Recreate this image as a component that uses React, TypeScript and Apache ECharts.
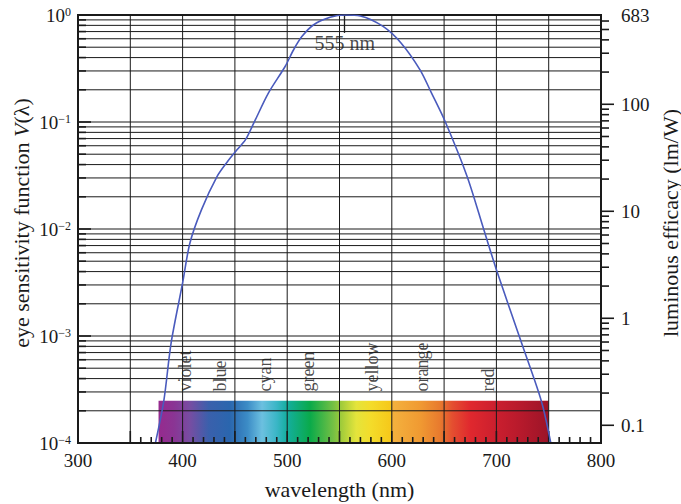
import React, { useEffect, useRef } from 'react';
import * as echarts from 'echarts';

// ---- data ----
const WAVELENGTH_NM = [374, 382, 389, 400, 407, 418, 433, 443, 452, 460, 468, 482, 498, 506, 514, 525, 541, 555, 570, 592, 609, 627, 638, 651, 672, 688, 700, 724, 743, 752];
const SENSITIVITY_V = [1.0e-4, 2.46e-4, 8.6e-4, 3.13e-3, 7.4e-3, 0.0151, 0.031, 0.0428, 0.055, 0.068, 0.0975, 0.186, 0.33, 0.471, 0.628, 0.807, 0.951, 1.0, 0.98, 0.778, 0.545, 0.307, 0.186, 0.101, 0.031, 0.00984, 0.00417, 8.63e-4, 2.46e-4, 1.0e-4];

const COLOR_NAMES = ['violet', 'blue', 'cyan', 'green', 'yellow', 'orange', 'red'];
const COLOR_NAME_NM = [402, 436, 479, 520, 581, 629, 692];
const COLOR_NAME_BASE_V = 3.03e-4;

const SPECTRUM_START_NM = 377;
const SPECTRUM_END_NM = 750;
const SPECTRUM_TOP_V = 2.48e-4;
const SPECTRUM_STOP_NM = [377, 392, 407, 425, 445, 462, 476, 490, 500, 522, 544, 552, 566, 580, 599, 600, 627, 646, 658, 675, 703, 722, 750];
const SPECTRUM_STOP_COLOR = ['#962a8e', '#8a3594', '#774da2', '#3a60ac', '#2a66ae', '#3c8cc6', '#6cc0e0', '#3ab6c6', '#14ae9e', '#0aaa4a', '#74c044', '#a2cc3a', '#e4e43c', '#f4dc2a', '#f6c81a', '#f4b23e', '#f09a32', '#e87a2e', '#e44e30', '#e0282e', '#c81e2e', '#b81a2c', '#9c1428'];

const PEAK_NM = 555;
const PEAK_MARK_LOW_V = 0.68;
const PEAK_LABEL_V = 0.55;

const X_MIN = 300;
const X_MAX = 800;
const V_MIN = 1e-4;
const V_MAX = 1;
const EFFICACY_MAX = 683;
const EFFICACY_MIN = EFFICACY_MAX * V_MIN;

const GRID_NM = [350, 400, 450, 500, 550, 600, 650, 700, 750];
const X_TICK_NM: number[] = [];
for (let nm = 350; nm <= 800; nm += 10) X_TICK_NM.push(nm);

const GRID_V: number[] = [];
for (let k = -4; k <= -1; k++) for (let m = 1; m <= 9; m++) GRID_V.push(Number((m * Math.pow(10, k)).toPrecision(3)));
GRID_V.push(1);

const EFFICACY_TICKS: number[] = [];
for (let k = -1; k <= 2; k++) for (let m = 1; m <= 9; m++) {
  const v = Number((m * Math.pow(10, k)).toPrecision(3));
  if (v <= 600) EFFICACY_TICKS.push(v);
}

const FONT = '"Liberation Serif", "Times New Roman", serif';
const INK = '#1a1a1a';

function isPow10(v: number) {
  const e = Math.log10(v);
  return Math.abs(e - Math.round(e)) < 1e-6;
}

function lineEl(x1: number, y1: number, x2: number, y2: number, w: number) {
  return { type: 'line', shape: { x1, y1, x2, y2 }, style: { stroke: INK, lineWidth: w } };
}

export default function App() {
  const ref = useRef<HTMLDivElement>(null);
  useEffect(() => {
    const chart = echarts.init(ref.current!, null, { renderer: 'svg' });
    const span = SPECTRUM_END_NM - SPECTRUM_START_NM;
    const stops = SPECTRUM_STOP_NM.map((nm, i) => ({ offset: (nm - SPECTRUM_START_NM) / span, color: SPECTRUM_STOP_COLOR[i] }));

    const option: any = {
      animation: false,
      backgroundColor: '#fff',
      grid: { left: 78, right: 80, top: 15, bottom: 61, show: true, borderColor: INK, borderWidth: 2, backgroundColor: 'transparent', outerBoundsMode: 'none', containLabel: false },
      xAxis: [{
        type: 'value', min: X_MIN, max: X_MAX, interval: 100, z: 10,
        axisLine: { show: true, lineStyle: { color: INK, width: 2 } },
        axisTick: { show: false }, splitLine: { show: false },
        axisLabel: { fontSize: 19, fontFamily: FONT, color: INK, margin: 8 },
        name: 'wavelength (nm)', nameLocation: 'middle', nameGap: 35, nameMoveOverlap: false,
        nameTextStyle: { fontSize: 22, fontFamily: FONT, color: INK },
      }],
      yAxis: [{
        type: 'log', logBase: 10, min: V_MIN, max: V_MAX, position: 'left', z: 10,
        axisLine: { show: true, lineStyle: { color: INK, width: 2 } },
        axisTick: { show: false }, splitLine: { show: false },
        axisLabel: {
          margin: 7, fontFamily: FONT, color: INK,
          formatter: (v: number) => {
            const e = Math.round(Math.log10(v));
            return '{b|10}{s|' + (e === 0 ? '0' : '\u2212' + -e) + '}';
          },
          rich: {
            b: { fontSize: 19, fontFamily: FONT, color: INK },
            s: { fontSize: 12, fontFamily: FONT, color: INK, verticalAlign: 'top', lineHeight: 12 },
          },
        },
        name: 'eye sensitivity function {i|V}(λ)', nameLocation: 'middle', nameGap: 46, nameMoveOverlap: false,
        nameTextStyle: { fontSize: 22, fontFamily: FONT, color: INK, padding: [0, 0, 0, 12], rich: { i: { fontSize: 22, fontFamily: FONT, color: INK, fontStyle: 'italic' } } },
      }, {
        type: 'log', logBase: 10, min: EFFICACY_MIN, max: EFFICACY_MAX, position: 'right', z: 10,
        axisLine: { show: true, lineStyle: { color: INK, width: 2 } },
        axisTick: { show: false }, splitLine: { show: false },
        axisLabel: {
          margin: 20, fontSize: 19, fontFamily: FONT, color: INK, showMaxLabel: true,
          formatter: (v: number) => {
            if (v > 600) return '683';
            if (v < 0.09) return '';
            return v >= 1 ? String(Math.round(v)) : String(Number(v.toPrecision(2)));
          },
        },
        name: 'luminous efficacy (lm/W)', nameLocation: 'middle', nameGap: 58, nameMoveOverlap: false,
        nameTextStyle: { fontSize: 22, fontFamily: FONT, color: INK, padding: [0, 0, 0, 12] },
      }],
      series: [
        {
          type: 'custom', name: 'spectrum', z: 2, silent: true, clip: false,
          encode: { x: [0, 1], y: [2, 3] },
          data: [[SPECTRUM_START_NM, SPECTRUM_END_NM, SPECTRUM_TOP_V, V_MIN]],
          renderItem: (_p: any, api: any) => {
            const a = api.coord([api.value(0), api.value(2)]);
            const b = api.coord([api.value(1), api.value(3)]);
            return {
              type: 'rect',
              shape: { x: a[0], y: a[1], width: b[0] - a[0], height: b[1] - a[1] },
              style: { fill: new echarts.graphic.LinearGradient(0, 0, 1, 0, stops) },
            };
          },
        },
        {
          type: 'custom', name: 'hgrid', z: 3, silent: true, clip: false,
          encode: { x: 0, y: 1 },
          data: GRID_V.map((v) => [X_MIN, v]),
          renderItem: (_p: any, api: any) => {
            const v = api.value(1);
            const a = api.coord([X_MIN, v]);
            const b = api.coord([X_MAX, v]);
            const left = isPow10(v) ? 13 : 8;
            return {
              type: 'group',
              children: [lineEl(a[0], a[1], b[0], b[1], 1), lineEl(a[0], a[1], a[0] + left, a[1], 1.6)],
            };
          },
        },
        {
          type: 'custom', name: 'vgrid', z: 3, silent: true, clip: false,
          encode: { x: 0, y: 1 },
          data: GRID_NM.map((nm) => [nm, V_MIN]),
          renderItem: (_p: any, api: any) => {
            const nm = api.value(0);
            const a = api.coord([nm, V_MIN]);
            const b = api.coord([nm, V_MAX]);
            return lineEl(a[0], a[1], b[0], b[1], 1);
          },
        },
        {
          type: 'custom', name: 'xticks', z: 4, silent: true, clip: false,
          encode: { x: 0, y: 1 },
          data: X_TICK_NM.map((nm) => [nm, V_MIN]),
          renderItem: (_p: any, api: any) => {
            const nm = api.value(0);
            const a = api.coord([nm, V_MIN]);
            const len = nm % 50 === 0 ? 12 : 6;
            return lineEl(a[0], a[1], a[0], a[1] - len, 1.6);
          },
        },
        {
          type: 'custom', name: 'efficacyTicks', yAxisIndex: 1, z: 4, silent: true, clip: false,
          encode: { x: 0, y: 1 },
          data: EFFICACY_TICKS.map((v) => [X_MAX, v]),
          renderItem: (_p: any, api: any) => {
            const v = api.value(1);
            const a = api.coord([X_MAX, v]);
            const len = isPow10(v) ? 13 : 8;
            return lineEl(a[0], a[1], a[0] + len, a[1], 1.6);
          },
        },
        {
          type: 'line', name: 'V(λ)', z: 6, clip: true,
          data: WAVELENGTH_NM.map((nm, i) => [nm, SENSITIVITY_V[i]]),
          smooth: 0.3, showSymbol: false, symbol: 'none',
          lineStyle: { color: '#4a5bbd', width: 1.6 },
          markLine: {
            silent: true, symbol: ['none', 'none'], label: { show: false },
            lineStyle: { color: INK, width: 1.3, type: 'solid' },
            data: [[{ coord: [PEAK_NM, V_MAX] }, { coord: [PEAK_NM, PEAK_MARK_LOW_V] }]],
          },
        },
        {
          type: 'scatter', name: 'peakLabel', z: 7, silent: true, symbolSize: 0,
          data: [[PEAK_NM, PEAK_LABEL_V]],
          label: { show: true, position: 'inside', formatter: '555 nm', fontSize: 20, fontFamily: FONT, color: INK },
        },
        {
          type: 'scatter', name: 'colourNames', z: 7, silent: true, symbolSize: 0,
          data: COLOR_NAMES.map((n, i) => ({ name: n, value: [COLOR_NAME_NM[i], COLOR_NAME_BASE_V] })),
          label: { show: true, position: 'inside', formatter: '{b}', rotate: 90, align: 'left', verticalAlign: 'middle', fontSize: 18, fontFamily: FONT, color: INK },
        },
      ],
    };
    chart.setOption(option);
    return () => chart.dispose();
  }, []);
  return <div ref={ref} style={{ position: 'fixed', left: 0, top: 0, width: 681, height: 504, background: '#fff' }} />;
}
